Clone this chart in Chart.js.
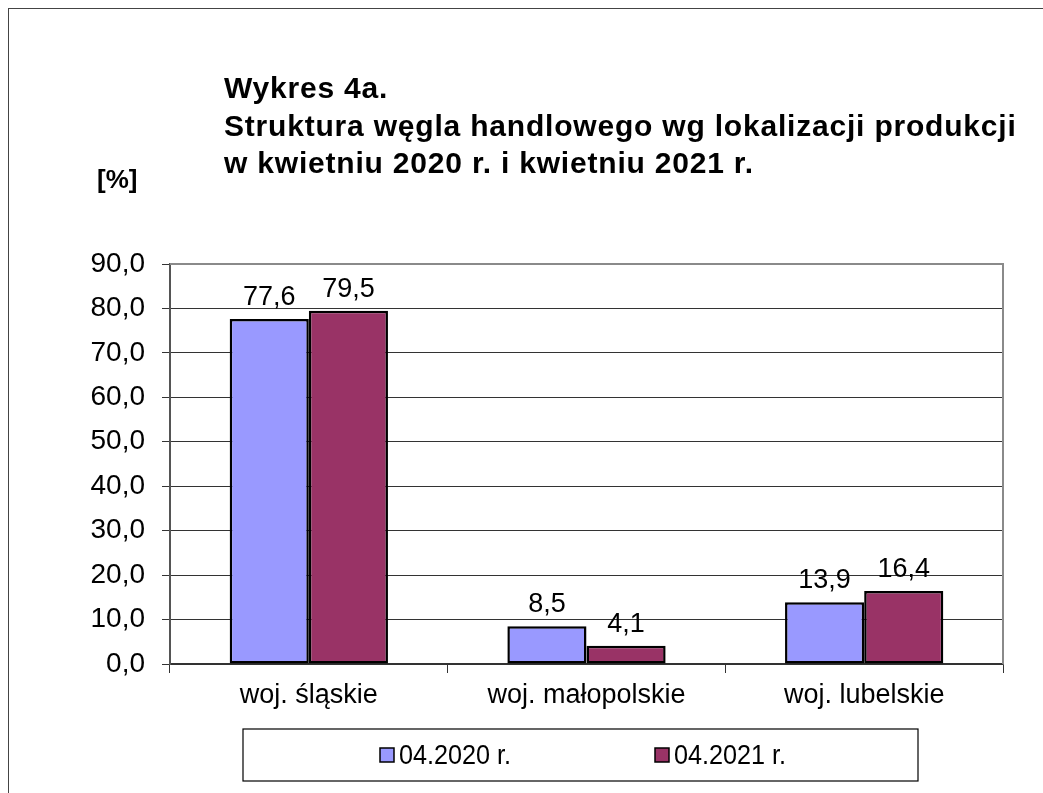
<!DOCTYPE html>
<html>
<head>
<meta charset="utf-8">
<script src="https://cdn.jsdelivr.net/npm/chart.js@4.4.1/dist/chart.umd.min.js"></script>
<style>
  body { margin: 0; background: #fff; }
  #wrap { position: relative; width: 1043px; height: 793px; }
  #frame { position: absolute; left: 8px; top: 8px; width: 1100px; height: 900px; border: 1.5px solid #444; box-sizing: border-box; }
  canvas { position: absolute; left: 0; top: 0; }
</style>
</head>
<body>
<div id="wrap">
  <div id="frame"></div>
  <canvas id="wykres" width="1043" height="793"></canvas>
</div>
<script>
const kategorie = ["woj. śląskie", "woj. małopolskie", "woj. lubelskie"];
const serie = ["04.2020 r.", "04.2021 r."];
const kwiecien2020 = [77.6, 8.5, 13.9];
const kwiecien2021 = [79.5, 4.1, 16.4];
const tytul = [
  "Wykres 4a.",
  "Struktura węgla handlowego wg lokalizacji produkcji",
  "w kwietniu 2020 r. i kwietniu 2021 r."
];
const jednostka = "[%]";

const FONT = "'Liberation Sans', Arial, sans-serif";
const fmt = v => v.toFixed(1).replace(".", ",");

// tytul, jednostka, ramka wykresu, etykiety i legenda
const dodatki = {
  id: "dodatki",
  afterDraw(chart) {
    const c = chart.ctx;
    const a = chart.chartArea;
    c.save();
    c.fillStyle = "#000";
    c.textAlign = "left";
    c.textBaseline = "alphabetic";
    c.font = "bold 30px " + FONT;
    c.letterSpacing = "0.8px";
    tytul.forEach((t, i) => c.fillText(t, 224, 98 + i * 37.5));
    c.letterSpacing = "0px";
    c.font = "bold 26px " + FONT;
    c.fillText(jednostka, 97, 188);

    // gorna i prawa krawedz obszaru
    c.strokeStyle = "#8a8a8a";
    c.lineWidth = 2;
    c.beginPath();
    c.moveTo(a.left, a.top);
    c.lineTo(a.right, a.top);
    c.lineTo(a.right, a.bottom);
    c.stroke();

    // etykiety danych
    c.font = "27px " + FONT;
    c.textAlign = "center";
    c.textBaseline = "bottom";
    chart.data.datasets.forEach((ds, i) => {
      chart.getDatasetMeta(i).data.forEach((el, j) => {
        c.fillText(fmt(ds.data[j]), el.x, el.y - 8);
      });
    });

    // legenda
    const lx = 243, ly = 729, lw = 675, lh = 52;
    c.strokeStyle = "#000";
    c.lineWidth = 1.2;
    c.strokeRect(lx, ly, lw, lh);
    const pozycje = [380, 655];
    c.textAlign = "left";
    c.textBaseline = "middle";
    c.font = "28px " + FONT;
    chart.data.datasets.forEach((ds, i) => {
      const x = pozycje[i], y = ly + lh / 2;
      c.fillStyle = ds.backgroundColor;
      c.fillRect(x, y - 7, 14, 14);
      c.strokeStyle = "#000";
      c.lineWidth = 1.5;
      c.strokeRect(x, y - 7, 14, 14);
      c.fillStyle = "#000";
      c.save();
      c.translate(x + 19, y + 1);
      c.scale(0.9, 1);
      c.fillText(ds.label, 0, 0);
      c.restore();
    });
    c.restore();
  }
};

new Chart(document.getElementById("wykres"), {
  type: "bar",
  data: {
    labels: kategorie,
    datasets: [
      {
        label: serie[0],
        data: kwiecien2020,
        backgroundColor: "#9999ff",
        borderColor: "#000",
        borderWidth: 2.5,
        borderSkipped: false,
      },
      {
        label: serie[1],
        data: kwiecien2021,
        backgroundColor: "#993366",
        borderColor: "#000",
        borderWidth: 2.5,
        borderSkipped: false,
      },
    ],
  },
  options: {
    responsive: false,
    animation: false,
    categoryPercentage: 0.57,
    barPercentage: 1.0,
    layout: { padding: { top: 264, right: 40, left: 0, bottom: 0 } },
    scales: {
      x: {
        afterFit(s) { s.height = 129; },
        grid: { offset: true, drawOnChartArea: false, tickLength: 9, color: "#333" },
        border: { color: "#333", width: 1.5 },
        ticks: { color: "#000", font: { family: FONT, size: 27 }, padding: 6 },
      },
      y: {
        min: 0,
        max: 90,
        afterFit(s) { s.width = 170; },
        grid: { color: "#333", tickLength: 8 },
        border: { color: "#555", width: 2 },
        ticks: {
          stepSize: 10,
          color: "#000",
          padding: 17,
          font: { family: FONT, size: 28 },
          callback: v => fmt(v),
        },
      },
    },
    plugins: {
      legend: { display: false },
      tooltip: { enabled: false },
    },
  },
  plugins: [dodatki],
});
</script>
</body>
</html>
